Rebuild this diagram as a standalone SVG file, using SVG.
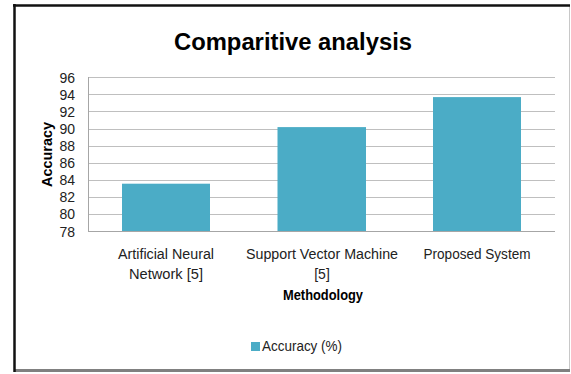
<svg xmlns="http://www.w3.org/2000/svg" width="571" height="374" viewBox="0 0 571 374">
  <style>
    .grid { stroke: #bfbfbf; stroke-width: 1; fill: none; }
    .axis { stroke: #a6a6a6; stroke-width: 1; fill: none; }
    .bar { fill: #4BACC6; }
    .tick { font-family: "Liberation Sans", Arial, sans-serif; font-size: 14px; fill: #222; text-anchor: end; }
    .cat { font-family: "Liberation Sans", Arial, sans-serif; font-size: 14px; fill: #222; text-anchor: middle; }
    .axtitle { font-family: "Liberation Sans", Arial, sans-serif; font-size: 14px; font-weight: bold; fill: #000; text-anchor: middle; }
    .title { font-family: "Liberation Sans", Arial, sans-serif; font-size: 23px; font-weight: bold; fill: #000; text-anchor: middle; }
    .legend { font-family: "Liberation Sans", Arial, sans-serif; font-size: 14px; fill: #222; }
  </style>

  <!-- background and chart frame -->
  <rect x="0" y="0" width="571" height="374" fill="#ffffff"/>
  <g id="frame">
    <line x1="569.5" y1="5" x2="569.5" y2="372" stroke="#c8c8c8" stroke-width="1"/>
    <line x1="14" y1="370.5" x2="570" y2="370.5" stroke="#808080" stroke-width="3"/>
    <line x1="14.5" y1="4" x2="14.5" y2="372" stroke="#111" stroke-width="2.5"/>
    <line x1="13" y1="5.5" x2="570" y2="5.5" stroke="#111" stroke-width="2.5"/>
  </g>

  <g id="title">
    <text class="title" x="293" y="50" textLength="238" lengthAdjust="spacingAndGlyphs">Comparitive analysis</text>
  </g>

  <!-- gridlines: 2-unit steps from 78 (y=231.7) to 96 (y=77.4) -->
  <g id="gridlines">
    <line class="grid" x1="88" y1="77.5" x2="555" y2="77.5"/>
    <line class="grid" x1="88" y1="94.5" x2="555" y2="94.5"/>
    <line class="grid" x1="88" y1="111.5" x2="555" y2="111.5"/>
    <line class="grid" x1="88" y1="129.5" x2="555" y2="129.5"/>
    <line class="grid" x1="88" y1="146.5" x2="555" y2="146.5"/>
    <line class="grid" x1="88" y1="163.5" x2="555" y2="163.5"/>
    <line class="grid" x1="88" y1="180.5" x2="555" y2="180.5"/>
    <line class="grid" x1="88" y1="197.5" x2="555" y2="197.5"/>
    <line class="grid" x1="88" y1="214.5" x2="555" y2="214.5"/>
  </g>

  <g id="bars">
    <rect id="bar-ann" class="bar" x="122" y="183.7" width="88" height="48"/>
    <rect id="bar-svm" class="bar" x="277.5" y="127.1" width="88.5" height="104.6"/>
    <rect id="bar-proposed" class="bar" x="433" y="97.1" width="88" height="134.6"/>
  </g>

  <g id="axes">
    <line class="axis" x1="88.5" y1="77" x2="88.5" y2="232"/>
    <line class="axis" x1="88" y1="231.5" x2="555" y2="231.5"/>
  </g>

  <g id="y-ticks">
    <text class="tick" x="75" y="82.5">96</text>
    <text class="tick" x="75" y="99.5">94</text>
    <text class="tick" x="75" y="116.5">92</text>
    <text class="tick" x="75" y="134">90</text>
    <text class="tick" x="75" y="151">88</text>
    <text class="tick" x="75" y="168">86</text>
    <text class="tick" x="75" y="185">84</text>
    <text class="tick" x="75" y="202">82</text>
    <text class="tick" x="75" y="219">80</text>
    <text class="tick" x="75" y="236.5">78</text>
  </g>

  <g id="y-axis-title">
    <text class="axtitle" transform="translate(52,154.5) rotate(-90)" x="0" y="0" textLength="65" lengthAdjust="spacingAndGlyphs">Accuracy</text>
  </g>

  <g id="categories">
    <text class="cat" x="166" y="259" textLength="96" lengthAdjust="spacingAndGlyphs">Artificial Neural</text>
    <text class="cat" x="166" y="279" textLength="74" lengthAdjust="spacingAndGlyphs">Network [5]</text>
    <text class="cat" x="322" y="259" textLength="152" lengthAdjust="spacingAndGlyphs">Support Vector Machine</text>
    <text class="cat" x="322" y="279">[5]</text>
    <text class="cat" x="477" y="259" textLength="107" lengthAdjust="spacingAndGlyphs">Proposed System</text>
  </g>

  <g id="x-axis-title">
    <text class="axtitle" x="323" y="300" textLength="80" lengthAdjust="spacingAndGlyphs">Methodology</text>
  </g>

  <g id="legend">
    <rect class="bar" x="251" y="342" width="9" height="9"/>
    <text class="legend" x="262" y="351" textLength="80" lengthAdjust="spacingAndGlyphs">Accuracy (%)</text>
  </g>
</svg>
